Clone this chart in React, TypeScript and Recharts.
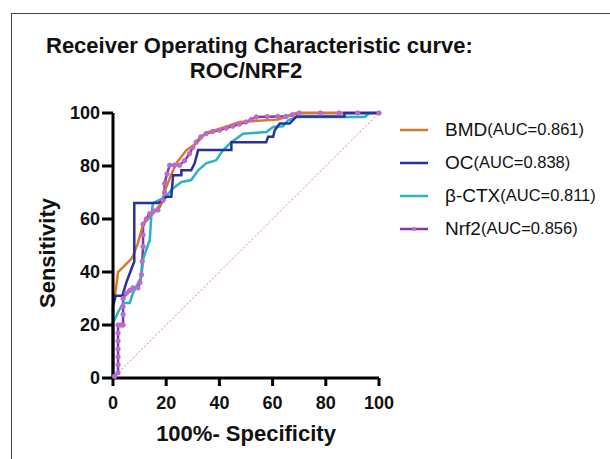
import React from 'react';
import { LineChart, Line, XAxis, YAxis, ReferenceLine, Legend } from 'recharts';

// ROC points: x = 100% - specificity, y = sensitivity
const bmd = [
  { x: 0, y: 0 }, { x: 0, y: 28 }, { x: 0.6, y: 30 }, { x: 1.9, y: 40 }, { x: 4, y: 42 },
  { x: 6.9, y: 45 }, { x: 7.5, y: 46 }, { x: 9.4, y: 51 }, { x: 11.3, y: 58 }, { x: 15, y: 62 },
  { x: 18.2, y: 66 }, { x: 20, y: 72 }, { x: 22, y: 77 }, { x: 23.8, y: 81 }, { x: 27.6, y: 86 },
  { x: 31.3, y: 88.5 }, { x: 35, y: 92.6 }, { x: 40, y: 94 }, { x: 47.6, y: 96.6 }, { x: 62, y: 97.5 },
  { x: 66, y: 98.8 }, { x: 69, y: 100 }, { x: 100, y: 100 },
];

const oc = [
  { x: 0, y: 0 }, { x: 0, y: 27 }, { x: 1, y: 31 }, { x: 3.5, y: 31 }, { x: 5, y: 36 },
  { x: 6.5, y: 40 }, { x: 8, y: 44 }, { x: 8, y: 66 }, { x: 17, y: 66 }, { x: 18.8, y: 67 },
  { x: 20, y: 68.4 }, { x: 21.9, y: 68.4 }, { x: 22.6, y: 76.5 }, { x: 25.7, y: 76.5 }, { x: 25.7, y: 78.4 },
  { x: 29.4, y: 78.4 }, { x: 30.7, y: 81 }, { x: 32, y: 86 }, { x: 44.5, y: 86 }, { x: 44.5, y: 89 },
  { x: 57.6, y: 89 }, { x: 58.3, y: 91 }, { x: 60.2, y: 91 }, { x: 60.8, y: 93.5 }, { x: 62.7, y: 96 },
  { x: 66.4, y: 96 }, { x: 69, y: 98.7 }, { x: 87, y: 98.7 }, { x: 87, y: 100 }, { x: 100, y: 100 },
];

const ctx = [
  { x: 0, y: 0 }, { x: 0, y: 20.7 }, { x: 2, y: 25 }, { x: 3.8, y: 28.3 }, { x: 6.3, y: 28.3 },
  { x: 7.5, y: 32 }, { x: 9, y: 35 }, { x: 10.7, y: 38.3 }, { x: 11.3, y: 44.6 }, { x: 12.5, y: 48.4 },
  { x: 13.8, y: 52 }, { x: 14.4, y: 61 }, { x: 15, y: 66 }, { x: 20, y: 68.4 }, { x: 21.9, y: 71 },
  { x: 25.7, y: 74 }, { x: 29.4, y: 74.7 }, { x: 32, y: 78.4 }, { x: 35, y: 81 }, { x: 38.8, y: 82.2 },
  { x: 41.4, y: 86 }, { x: 44.5, y: 89 }, { x: 48.9, y: 92.2 }, { x: 57.6, y: 92.8 }, { x: 60.2, y: 94.7 },
  { x: 63.9, y: 95 }, { x: 65.8, y: 97.2 }, { x: 69, y: 98.5 }, { x: 94.6, y: 98.5 }, { x: 96.5, y: 100 },
  { x: 100, y: 100 },
];

const nrf2 = [
  { x: 0.6, y: 0.6 }, { x: 1.9, y: 2 }, { x: 1.9, y: 5 }, { x: 1.9, y: 8 }, { x: 1.9, y: 11 },
  { x: 1.9, y: 14 }, { x: 1.9, y: 17 }, { x: 1.9, y: 20 }, { x: 3, y: 20 }, { x: 3.8, y: 20 },
  { x: 3.8, y: 24 }, { x: 3.8, y: 27 }, { x: 3.8, y: 30 }, { x: 5, y: 32 }, { x: 6.3, y: 33 },
  { x: 7.5, y: 34 }, { x: 9.4, y: 34 }, { x: 10.1, y: 36 }, { x: 10.7, y: 39 }, { x: 11, y: 44 },
  { x: 11.3, y: 49.6 }, { x: 11.3, y: 54 }, { x: 11.3, y: 58 }, { x: 12.5, y: 60 }, { x: 13.8, y: 62 },
  { x: 15.3, y: 63 }, { x: 16.9, y: 63.4 }, { x: 18.8, y: 67 }, { x: 19.4, y: 70 }, { x: 19.4, y: 73.4 },
  { x: 20.3, y: 77 }, { x: 21.3, y: 80.3 }, { x: 23, y: 80.3 }, { x: 25, y: 80.3 }, { x: 26.9, y: 82 },
  { x: 28.8, y: 84.7 }, { x: 30, y: 87 }, { x: 31.3, y: 89 }, { x: 33, y: 91 }, { x: 35, y: 92.2 },
  { x: 37.5, y: 93 }, { x: 40, y: 93.5 }, { x: 42.5, y: 94.3 }, { x: 45, y: 95 }, { x: 47.5, y: 95.8 },
  { x: 50, y: 96.6 }, { x: 52, y: 97.6 }, { x: 53.9, y: 98.5 }, { x: 58, y: 98.6 }, { x: 62, y: 98.7 },
  { x: 65, y: 98.7 }, { x: 67.5, y: 99.4 }, { x: 70, y: 100 }, { x: 78, y: 100 }, { x: 85, y: 100 },
  { x: 92, y: 100 }, { x: 100, y: 100 },
];

const seriesNames = ['BMD', 'OC', 'β-CTX', 'Nrf2'];
const aucLabels: Record<string, string> = {
  BMD: '(AUC=0.861)',
  OC: '(AUC=0.838)',
  'β-CTX': '(AUC=0.811)',
  Nrf2: '(AUC=0.856)',
};
const axisTicks = [0, 20, 40, 60, 80, 100];

const COLORS: Record<string, string> = {
  BMD: '#D9782A',
  OC: '#2B2F9C',
  'β-CTX': '#2BB2C9',
  Nrf2: '#8B34A8',
};

const FONT = '"Liberation Sans", Arial, sans-serif';

const renderLegend = (props: any) => {
  const items = [...(props.payload || [])].sort(
    (a: any, b: any) => seriesNames.indexOf(a.value) - seriesNames.indexOf(b.value)
  );
  return (
    <div style={{ fontFamily: FONT, color: '#111' }}>
      {items.map((item: any) => (
        <div key={item.value} style={{ display: 'flex', alignItems: 'center', height: 33 }}>
          <svg width={28} height={10} style={{ marginRight: 17 }}>
            <line x1={0} y1={5} x2={28} y2={5} stroke={item.color} strokeWidth={2.5} />
            {item.value === 'Nrf2' && <circle cx={14} cy={5} r={2} fill="#B86BD0" />}
          </svg>
          <span style={{ fontSize: 19 }}>{item.value}</span>
          <span style={{ fontSize: 16.5 }}>{aucLabels[item.value]}</span>
        </div>
      ))}
    </div>
  );
};

export default function App() {
  const axisStyle = { stroke: '#000', strokeWidth: 3 };
  const tickStyle = { fill: '#111', fontSize: 18, fontWeight: 700, fontFamily: FONT };
  const titleStyle = { position: 'absolute' as const, textAlign: 'center' as const, fontWeight: 700, color: '#111', whiteSpace: 'nowrap' as const };
  return (
    <div style={{ position: 'absolute', left: 0, top: 0, width: 610, height: 459, overflow: 'hidden', background: '#fff', fontFamily: FONT }}>
      <div style={{ position: 'absolute', left: 11, top: 13, width: 640, height: 480, border: '1.5px solid #444' }} />
      <div style={{ ...titleStyle, left: 46, width: 400, top: 35, fontSize: 22, lineHeight: '22px' }}>
        Receiver Operating Characteristic curve:
      </div>
      <div style={{ ...titleStyle, left: 46, width: 400, top: 60, fontSize: 22, lineHeight: '22px' }}>
        ROC/NRF2
      </div>
      <div style={{ ...titleStyle, left: 146, width: 200, top: 423, fontSize: 22, lineHeight: '22px' }}>
        100%- Specificity
      </div>
      <div style={{ ...titleStyle, left: 48 - 100, width: 200, top: 253 - 11, fontSize: 22, lineHeight: '22px', transform: 'rotate(-90deg)' }}>
        Sensitivity
      </div>
      <LineChart width={610} height={459} margin={{ top: 113, right: 231, bottom: 0, left: 0 }} style={{ position: 'absolute', left: 0, top: 0 }}>
        <XAxis
          type="number"
          dataKey="x"
          domain={[0, 100]}
          ticks={axisTicks}
          height={81}
          tickSize={8}
          tickMargin={10}
          axisLine={axisStyle}
          tickLine={axisStyle}
          tick={tickStyle}
          allowDuplicatedCategory={false}
        />
        <YAxis
          type="number"
          dataKey="y"
          domain={[0, 100]}
          ticks={axisTicks}
          width={113}
          tickSize={11}
          tickMargin={2}
          axisLine={axisStyle}
          tickLine={axisStyle}
          tick={tickStyle}
        />
        <ReferenceLine
          segment={[{ x: 0, y: 0 }, { x: 100, y: 100 }]}
          stroke="#E77B7B"
          strokeWidth={1}
          strokeDasharray="2 2"
          ifOverflow="visible"
        />
        <Legend
          layout="vertical"
          align="center"
          verticalAlign="middle"
          content={renderLegend}
          wrapperStyle={{ left: 400, top: 113, width: 210, bottom: 'auto', right: 'auto' }}
        />
        <Line data={nrf2} dataKey="y" name="Nrf2" type="linear" stroke={COLORS.Nrf2} strokeWidth={2.5}
          dot={{ r: 2.2, fill: '#B86BD0', stroke: '#B86BD0', strokeWidth: 1 }} isAnimationActive={false} />
        <Line data={bmd} dataKey="y" name="BMD" type="linear" stroke={COLORS.BMD} strokeWidth={2.5}
          dot={false} isAnimationActive={false} />
        <Line data={ctx} dataKey="y" name="β-CTX" type="linear" stroke={COLORS['β-CTX']} strokeWidth={2.5}
          dot={false} isAnimationActive={false} />
        <Line data={oc} dataKey="y" name="OC" type="linear" stroke={COLORS.OC} strokeWidth={2.5}
          dot={false} isAnimationActive={false} />
      </LineChart>
    </div>
  );
}
